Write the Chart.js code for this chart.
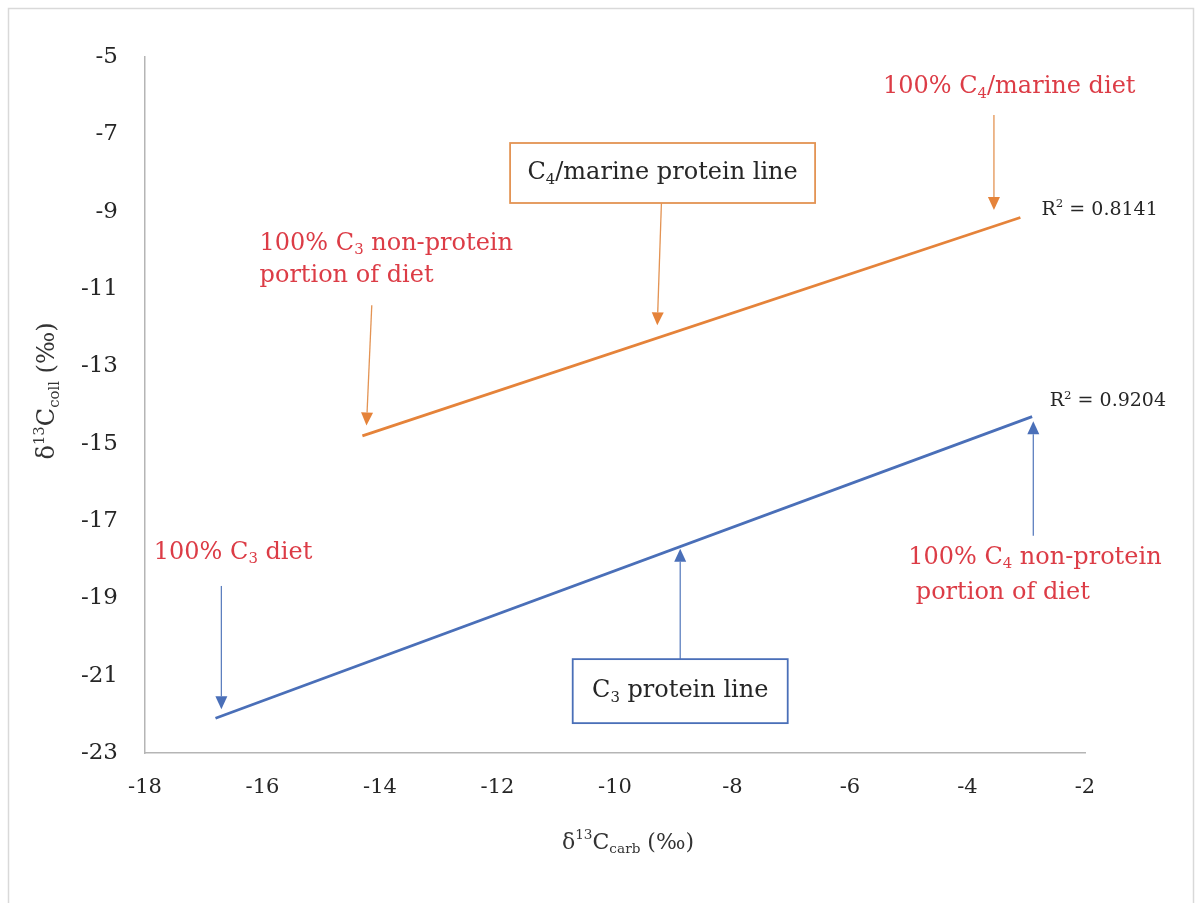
<!DOCTYPE html>
<html>
<head>
<meta charset="utf-8">
<script src="https://cdn.jsdelivr.net/npm/chart.js@4/dist/chart.umd.min.js"></script>
<style>
  html, body { margin: 0; padding: 0; background: #ffffff; }
  #wrap { width: 1203px; height: 903px; }
</style>
</head>
<body>
<div id="wrap"><canvas id="chart" width="1203" height="903"></canvas></div>
<script>
// Regression lines: δ13C of bone carbonate vs. δ13C of collagen
const c3LineX = [-16.8, -2.9];
const c3LineY = [-22.1, -14.3];
const c4LineX = [-14.3, -3.1];
const c4LineY = [-14.8, -9.15];

// Axis ranges and tick step
const xRange = [-18, -2];
const yRange = [-23, -5];
const tickStep = 2;

// Fit statistics shown beside each line
const c3R2 = '0.9204';
const c4R2 = '0.8141';

// Annotation arrows (data units): start and end points
const arrowFromX = [-3.55, -9.21, -14.14, -16.7, -8.89, -2.88];
const arrowFromY = [-6.5, -8.78, -11.42, -18.68, -20.57, -17.38];
const arrowToX   = [-3.55, -9.28, -14.23, -16.7, -8.89, -2.88];
const arrowToY   = [-8.96, -11.94, -14.53, -21.87, -17.72, -14.42];
const arrowLine  = ['c4', 'c4', 'c4', 'c3', 'c3', 'c3'];

const COLORS = {
  c3: '#4a6fb8',
  c4: '#e5833a',
  c3Arrow: '#5d7fbf',
  c4Arrow: '#e39353',
  note: '#dc3c46',
  text: '#262626',
  axis: '#b5b5b5'
};
const SERIF = '"DejaVu Serif", "Liberation Serif", serif';

function toPoints(xs, ys) { return xs.map((x, i) => ({ x: x, y: ys[i] })); }

// Text with sub/superscript pieces: [text, 'sub'|'sup'|undefined]
function richWidth(ctx, segs, size) {
  let w = 0;
  segs.forEach(s => {
    const sz = s[1] ? size * 0.62 : size;
    ctx.font = sz + 'px ' + SERIF;
    w += ctx.measureText(s[0]).width;
  });
  return w;
}
function drawRich(ctx, segs, x, y, size, color, align) {
  const w = richWidth(ctx, segs, size);
  let cx = align === 'center' ? x - w / 2 : (align === 'right' ? x - w : x);
  ctx.fillStyle = color;
  ctx.textBaseline = 'middle';
  ctx.textAlign = 'left';
  segs.forEach(s => {
    const sz = s[1] ? size * 0.62 : size;
    ctx.font = sz + 'px ' + SERIF;
    let dy = 0;
    if (s[1] === 'sub') dy = size * 0.28;
    if (s[1] === 'sup') dy = -size * 0.32;
    ctx.fillText(s[0], cx, y + dy);
    cx += ctx.measureText(s[0]).width;
  });
}

// Free-standing labels (anchored in data units)
const notes = [
  { x: -3.29, y: -5.78, align: 'center', color: 'note', size: 24,
    lines: [[['100% C'], ['4', 'sub'], ['/marine diet']]] },
  { x: -16.05, y: -9.82, align: 'left', color: 'note', size: 24, gap: 32,
    lines: [[['100% C'], ['3', 'sub'], [' non-protein']], [['portion of diet']]] },
  { x: -17.85, y: -17.82, align: 'left', color: 'note', size: 24,
    lines: [[['100% C'], ['3', 'sub'], [' diet']]] },
  { x: -5.01, y: -17.95, align: 'left', color: 'note', size: 24, gap: 35,
    lines: [[['100% C'], ['4', 'sub'], [' non-protein']], [[' portion of diet']]] },
  { x: -2.74, y: -8.96, align: 'left', color: 'text', size: 19,
    lines: [[['R'], ['2', 'sup'], [' = ' + c4R2]]] },
  { x: -2.6, y: -13.91, align: 'left', color: 'text', size: 19,
    lines: [[['R'], ['2', 'sup'], [' = ' + c3R2]]] }
];

// Boxed line names
const boxes = [
  { x: -9.19, y: -8.0, w: 305, h: 60, color: 'c4Arrow', size: 24,
    segs: [['C'], ['4', 'sub'], ['/marine protein line']] },
  { x: -8.89, y: -21.4, w: 215, h: 64, color: 'c3', size: 24,
    segs: [['C'], ['3', 'sub'], [' protein line']] }
];

const annotations = {
  id: 'annotations',
  beforeDraw(chart) {
    const ctx = chart.ctx;
    ctx.save();
    ctx.fillStyle = '#ffffff';
    ctx.fillRect(0, 0, chart.width, chart.height);
    ctx.strokeStyle = '#d9d9d9';
    ctx.lineWidth = 1.5;
    ctx.strokeRect(8.5, 8.5, 1185, 930);
    ctx.restore();
  },
  afterDatasetsDraw(chart) {
    const ctx = chart.ctx;
    const xs = chart.scales.x, ys = chart.scales.y;
    const ca = chart.chartArea;
    ctx.save();

    // arrows
    arrowFromX.forEach((fx, i) => {
      const x1 = xs.getPixelForValue(fx), y1 = ys.getPixelForValue(arrowFromY[i]);
      const x2 = xs.getPixelForValue(arrowToX[i]), y2 = ys.getPixelForValue(arrowToY[i]);
      const col = arrowLine[i] === 'c3' ? COLORS.c3Arrow : COLORS.c4Arrow;
      const ang = Math.atan2(y2 - y1, x2 - x1);
      const hl = 13, hw = 6;
      const bx = x2 - hl * Math.cos(ang), by = y2 - hl * Math.sin(ang);
      ctx.strokeStyle = col;
      ctx.lineWidth = 1.3;
      ctx.beginPath();
      ctx.moveTo(x1, y1);
      ctx.lineTo(bx, by);
      ctx.stroke();
      ctx.fillStyle = arrowLine[i] === 'c3' ? COLORS.c3 : COLORS.c4;
      ctx.beginPath();
      ctx.moveTo(x2, y2);
      ctx.lineTo(bx + hw * Math.sin(ang), by - hw * Math.cos(ang));
      ctx.lineTo(bx - hw * Math.sin(ang), by + hw * Math.cos(ang));
      ctx.closePath();
      ctx.fill();
    });

    // boxes
    boxes.forEach(b => {
      const cx = xs.getPixelForValue(b.x), cy = ys.getPixelForValue(b.y);
      ctx.fillStyle = '#ffffff';
      ctx.fillRect(cx - b.w / 2, cy - b.h / 2, b.w, b.h);
      ctx.strokeStyle = COLORS[b.color];
      ctx.lineWidth = 1.8;
      ctx.strokeRect(cx - b.w / 2, cy - b.h / 2, b.w, b.h);
      drawRich(ctx, b.segs, cx, cy, b.size, COLORS.text, 'center');
    });

    // notes
    notes.forEach(n => {
      const px = xs.getPixelForValue(n.x), py = ys.getPixelForValue(n.y);
      n.lines.forEach((segs, k) => {
        drawRich(ctx, segs, px, py + k * (n.gap || 0), n.size, COLORS[n.color], n.align);
      });
    });

    // axis titles
    drawRich(ctx, [['δ'], ['13', 'sup'], ['C'], ['carb', 'sub'], [' (‰)']],
      (ca.left + ca.right) / 2 + 13, 843, 22, '#333333', 'center');
    ctx.save();
    ctx.translate(48, (ca.top + ca.bottom) / 2 - 14);
    ctx.rotate(-Math.PI / 2);
    drawRich(ctx, [['δ'], ['13', 'sup'], ['C'], ['coll', 'sub'], [' (‰)']],
      0, 0, 24, '#333333', 'center');
    ctx.restore();

    ctx.restore();
  }
};

new Chart(document.getElementById('chart'), {
  type: 'scatter',
  data: {
    datasets: [
      { label: 'C3 protein line', data: toPoints(c3LineX, c3LineY), showLine: true,
        borderColor: COLORS.c3, borderWidth: 2.8, pointRadius: 0, fill: false },
      { label: 'C4/marine protein line', data: toPoints(c4LineX, c4LineY), showLine: true,
        borderColor: COLORS.c4, borderWidth: 2.8, pointRadius: 0, fill: false }
    ]
  },
  options: {
    responsive: false,
    devicePixelRatio: 1,
    animation: false,
    layout: { padding: { left: 0, top: 57, right: 118, bottom: 0 } },
    plugins: { legend: { display: false }, tooltip: { enabled: false } },
    scales: {
      x: {
        type: 'linear', min: xRange[0], max: xRange[1],
        grid: { display: false, drawTicks: false },
        border: { display: true, color: COLORS.axis, width: 1.5 },
        ticks: { stepSize: tickStep, padding: 22, color: '#262626',
                 font: { family: SERIF, size: 21 } },
        afterFit(scale) { scale.height = 150; }
      },
      y: {
        type: 'linear', min: yRange[0], max: yRange[1],
        grid: { display: false, drawTicks: false },
        border: { display: true, color: COLORS.axis, width: 1.5 },
        ticks: { stepSize: tickStep, padding: 27, color: '#262626',
                 font: { family: SERIF, size: 23 } },
        afterFit(scale) { scale.width = 145; }
      }
    }
  },
  plugins: [annotations]
});
</script>
</body>
</html>
